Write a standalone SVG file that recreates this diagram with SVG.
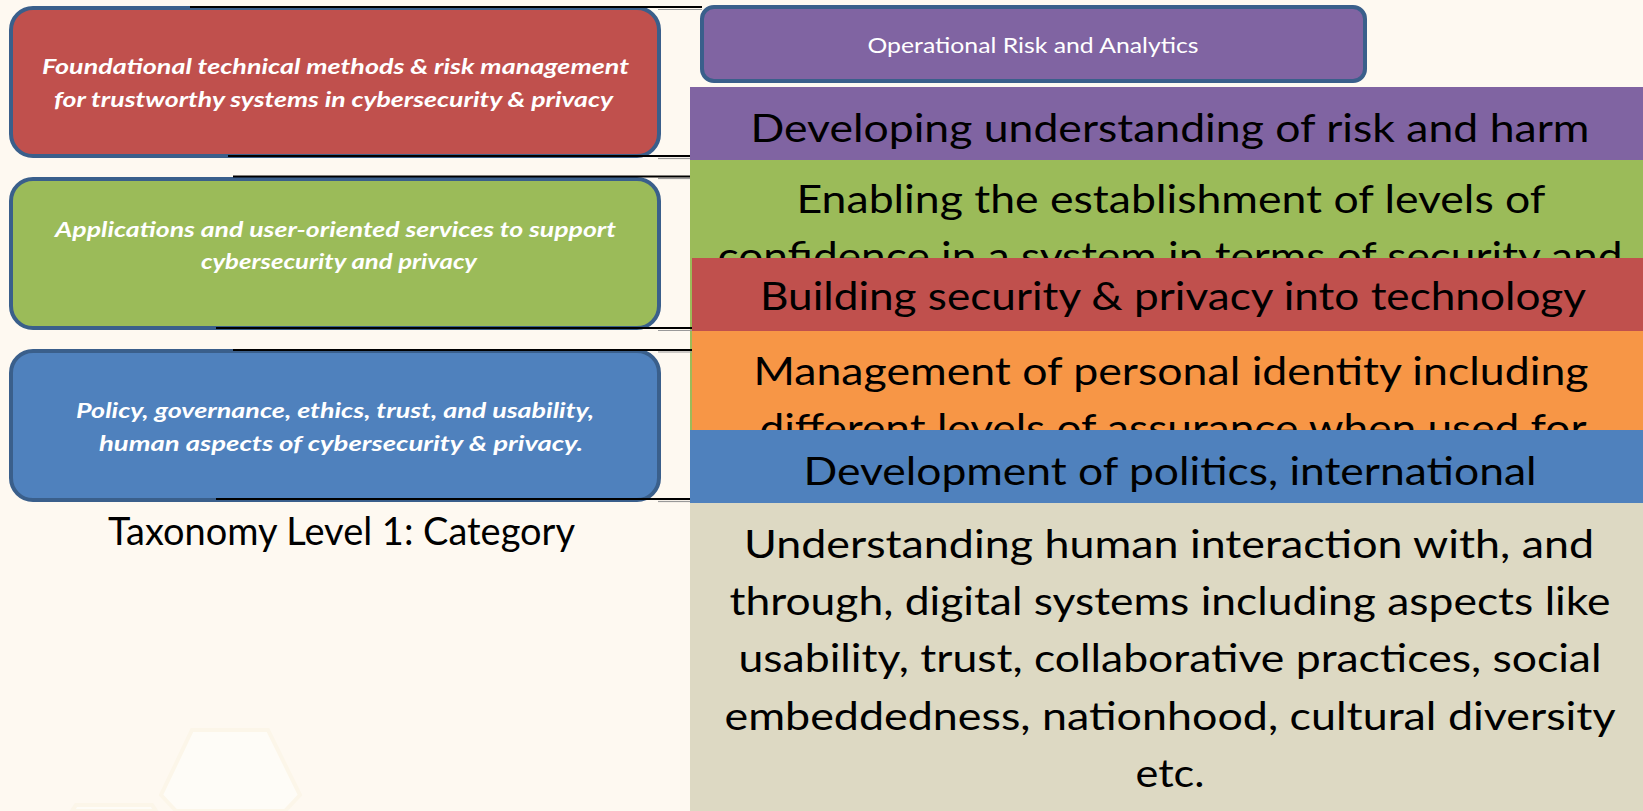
<svg xmlns="http://www.w3.org/2000/svg" width="1643" height="811" viewBox="0 0 1643 811">
<defs>
<style>
.bg{fill:#FEF9F1}
.cat{stroke:#3A5F8B;stroke-width:4}
.cat-t{font-family:Lato,"Liberation Sans",sans-serif;font-size:21px;font-weight:bold;font-style:italic;fill:#FFFFFF;text-anchor:middle}
.band-t{font-family:Lato,"Liberation Sans",sans-serif;font-size:39px;fill:#000000;text-anchor:middle}
.ora-t{font-family:Lato,"Liberation Sans",sans-serif;font-size:22px;fill:#FFFFFF;text-anchor:middle}
.cap{font-family:Lato,"Liberation Sans",sans-serif;font-size:39px;fill:#000000;text-anchor:middle}
.ln{stroke:#000000;stroke-width:2.2;fill:none}
.sh{stroke:#9A9A9A;stroke-width:1.2;fill:none}
.hex{fill:#FEFCF7;stroke:#FCF6E9;stroke-width:4}
</style>
<clipPath id="clip-green"><rect x="690" y="160" width="953" height="98"/></clipPath>
<clipPath id="clip-orange"><rect x="692" y="331" width="951" height="99"/></clipPath>
</defs>
<rect class="bg" x="0" y="0" width="1643" height="811"/>
<g id="background-hexagons">
<polygon class="hex" points="192,730 268,730 300,795 285,811 176,811 161,795"/>
<polygon class="hex" points="76,805 152,805 156,811 72,811"/>
</g>
<g id="cat-red">
<rect class="cat" x="11" y="8" width="648" height="148" rx="22" fill="#C0504D"/>
<text class="cat-t" x="335.5" y="74" textLength="587" lengthAdjust="spacingAndGlyphs">Foundational technical methods &amp; risk management</text>
<text class="cat-t" x="333.5" y="107" textLength="559" lengthAdjust="spacingAndGlyphs">for trustworthy systems in cybersecurity &amp; privacy</text>
</g>
<g id="cat-green">
<rect class="cat" x="11" y="179" width="648" height="149" rx="22" fill="#9BBB59"/>
<text class="cat-t" x="335.5" y="237" textLength="561" lengthAdjust="spacingAndGlyphs">Applications and user-oriented services to support</text>
<text class="cat-t" x="339" y="269" textLength="276" lengthAdjust="spacingAndGlyphs">cybersecurity and privacy</text>
</g>
<g id="cat-blue">
<rect class="cat" x="11" y="351" width="648" height="149" rx="22" fill="#4F81BD"/>
<text class="cat-t" x="335" y="418" textLength="518" lengthAdjust="spacingAndGlyphs">Policy, governance, ethics, trust, and usability,</text>
<text class="cat-t" x="341" y="451" textLength="484" lengthAdjust="spacingAndGlyphs">human aspects of cybersecurity &amp; privacy.</text>
</g>
<g id="caption">
<text class="cap" x="341.5" y="545" textLength="467" lengthAdjust="spacingAndGlyphs">Taxonomy Level 1: Category</text>
</g>
<g id="ora">
<rect class="cat" x="702" y="7" width="663" height="74" rx="12" fill="#8064A2"/>
<text class="ora-t" x="1033" y="53" textLength="331" lengthAdjust="spacingAndGlyphs">Operational Risk and Analytics</text>
</g>
<g id="band-purple">
<rect x="690" y="87" width="953" height="73" fill="#8064A2"/>
<text class="band-t" x="1170" y="142" textLength="839" lengthAdjust="spacingAndGlyphs">Developing understanding of risk and harm</text>
</g>
<g id="band-green">
<rect x="690" y="160" width="953" height="270" fill="#9BBB59"/>
<text class="band-t" x="1171" y="213" textLength="749" lengthAdjust="spacingAndGlyphs">Enabling the establishment of levels of</text>
<g clip-path="url(#clip-green)">
<text class="band-t" x="1170" y="270" textLength="905" lengthAdjust="spacingAndGlyphs">confidence in a system in terms of security and</text>
</g>
</g>
<g id="band-red">
<rect x="692" y="258" width="951" height="73" fill="#C0504D"/>
<text class="band-t" x="1173" y="310" textLength="826" lengthAdjust="spacingAndGlyphs">Building security &amp; privacy into technology</text>
</g>
<g id="band-orange">
<rect x="692" y="331" width="951" height="99" fill="#F79646"/>
<text class="band-t" x="1171" y="385" textLength="835" lengthAdjust="spacingAndGlyphs">Management of personal identity including</text>
<g clip-path="url(#clip-orange)">
<text class="band-t" x="1173" y="442" textLength="827" lengthAdjust="spacingAndGlyphs">different levels of assurance when used for</text>
</g>
</g>
<g id="band-blue">
<rect x="690" y="430" width="953" height="73" fill="#4F81BD"/>
<text class="band-t" x="1170" y="485" textLength="733" lengthAdjust="spacingAndGlyphs">Development of politics, international</text>
</g>
<g id="band-beige">
<rect x="690" y="503" width="953" height="308" fill="#DDD9C3"/>
<text class="band-t" x="1169" y="558" textLength="850" lengthAdjust="spacingAndGlyphs">Understanding human interaction with, and</text>
<text class="band-t" x="1170" y="615" textLength="881" lengthAdjust="spacingAndGlyphs">through, digital systems including aspects like</text>
<text class="band-t" x="1170" y="672" textLength="863" lengthAdjust="spacingAndGlyphs">usability, trust, collaborative practices, social</text>
<text class="band-t" x="1170" y="730" textLength="891" lengthAdjust="spacingAndGlyphs">embeddedness, nationhood, cultural diversity</text>
<text class="band-t" x="1170" y="787" textLength="69" lengthAdjust="spacingAndGlyphs">etc.</text>
</g>
<g id="connectors">
<line class="sh" x1="658" y1="9.5" x2="702" y2="9.5"/>
<line class="ln" x1="190" y1="7" x2="702" y2="7"/>
<line class="sh" x1="658" y1="158.5" x2="690" y2="158.5"/>
<line class="ln" x1="228" y1="156" x2="690" y2="156"/>
<line class="sh" x1="658" y1="178.5" x2="690" y2="178.5"/>
<line class="ln" x1="233" y1="176.5" x2="690" y2="176.5"/>
<line class="sh" x1="658" y1="330.5" x2="692" y2="330.5"/>
<line class="ln" x1="216" y1="328" x2="692" y2="328"/>
<line class="sh" x1="658" y1="352" x2="692" y2="352"/>
<line class="ln" x1="233" y1="350" x2="692" y2="350"/>
<line class="sh" x1="658" y1="501.5" x2="690" y2="501.5"/>
<line class="ln" x1="216" y1="499" x2="690" y2="499"/>
</g>
</svg>
